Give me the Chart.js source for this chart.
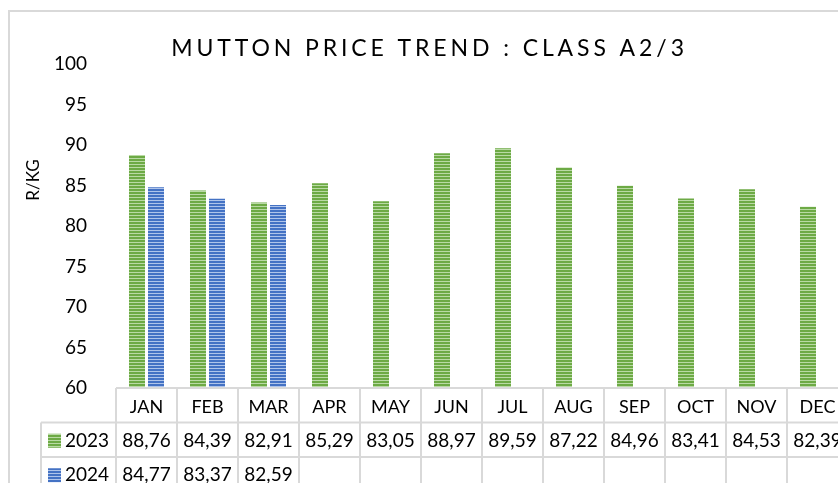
<!DOCTYPE html>
<html>
<head>
<meta charset="utf-8">
<script src="https://cdn.jsdelivr.net/npm/chart.js@4.4.1/dist/chart.umd.min.js"></script>
<style>
  html, body { margin: 0; padding: 0; background: #ffffff; overflow: hidden; }
  #wrap { position: absolute; left: 0; top: 0; width: 860px; height: 500px; }
</style>
</head>
<body>
<div id="wrap"><canvas id="c" width="860" height="500"></canvas></div>
<script>
// ---- data ----
const chartTitle = 'MUTTON PRICE TREND : CLASS A2/3';
const yAxisTitle = 'R/KG';
const months = ['JAN', 'FEB', 'MAR', 'APR', 'MAY', 'JUN', 'JUL', 'AUG', 'SEP', 'OCT', 'NOV', 'DEC'];
const seriesNames = ['2023', '2024'];
const values2023 = [88.76, 84.39, 82.91, 85.29, 83.05, 88.97, 89.59, 87.22, 84.96, 83.41, 84.53, 82.39];
const values2024 = [84.77, 83.37, 82.59, null, null, null, null, null, null, null, null, null];
const yMin = 60, yMax = 100, yStep = 5;

// ---- styles ----
const FONT = 'Lato, "Open Sans", "DejaVu Sans", sans-serif';
const TEXT = '#000000';
const GRID = '#D9D9D9';

function stripePattern(dark, light) {
  const p = document.createElement('canvas');
  p.width = 4; p.height = 3;
  const g = p.getContext('2d');
  g.fillStyle = dark; g.fillRect(0, 0, 4, 2);
  g.fillStyle = light; g.fillRect(0, 2, 4, 1);
  return g.createPattern(p, 'repeat');
}
const ctx = document.getElementById('c').getContext('2d');
const greenPat = stripePattern('#6DAA45', '#B9DAA4');
const bluePat = stripePattern('#4472C4', '#AFC4EA');
const seriesFills = [greenPat, bluePat];

function fmt(v) { return v == null ? '' : v.toFixed(2).replace('.', ','); }

const framePlugin = {
  id: 'frame',
  beforeDraw(chart) {
    const c = chart.ctx;
    c.save();
    c.strokeStyle = GRID;
    c.lineWidth = 2;
    c.strokeRect(9, 11, 1200, 1200);
    c.restore();
  }
};

const tablePlugin = {
  id: 'dataTable',
  afterDraw(chart) {
    const c = chart.ctx;
    const xs = chart.scales.x;
    const area = chart.chartArea;
    const top = area.bottom;          // header row top
    const rowH = 34.5;
    const r1 = top + rowH, r2 = r1 + rowH, r3 = r2 + rowH;
    const legendLeft = 41;
    const n = months.length;
    const colW = (xs.right - xs.left) / n;
    c.save();
    c.strokeStyle = GRID;
    c.lineWidth = 2;
    c.beginPath();
    c.moveTo(xs.left, top); c.lineTo(xs.right + 40, top);
    [r1, r2, r3].forEach(y => { c.moveTo(legendLeft, y); c.lineTo(xs.right + 40, y); });
    for (let i = 0; i <= n; i++) {
      const x = xs.left + i * colW;
      c.moveTo(x, top); c.lineTo(x, r3 + 20);
    }
    c.moveTo(legendLeft, r1); c.lineTo(legendLeft, r3 + 20);
    c.stroke();

    // title
    c.fillStyle = TEXT;
    c.font = '23px ' + FONT;
    c.letterSpacing = '3.9px';
    c.textAlign = 'center';
    c.textBaseline = 'alphabetic';
    c.fillText(chartTitle, 429.5, 56);
    c.letterSpacing = '0px';

    // y axis title
    c.save();
    c.translate(34, 180);
    c.rotate(-Math.PI / 2);
    c.font = '17px ' + FONT;
    c.textAlign = 'center';
    c.textBaseline = 'middle';
    c.fillText(yAxisTitle, 0, 0);
    c.restore();

    // rows
    const rows = [values2023, values2024];
    const rowY = [r1, r2];
    c.font = '19px ' + FONT;
    c.textBaseline = 'middle';
    rows.forEach((vals, k) => {
      const cy = rowY[k] + rowH / 2 + 1;
      c.fillStyle = seriesFills[k];
      c.fillRect(48, cy - 7, 13, 14);
      c.fillStyle = TEXT;
      c.textAlign = 'left';
      c.fillText(seriesNames[k], 65, cy);
      c.textAlign = 'center';
      vals.forEach((v, i) => {
        c.fillText(fmt(v), xs.getPixelForValue(i), cy);
      });
    });
    c.restore();
  }
};

new Chart(ctx, {
  type: 'bar',
  data: {
    labels: months,
    datasets: [
      { label: seriesNames[0], data: values2023, backgroundColor: greenPat, borderWidth: 0 },
      { label: seriesNames[1], data: values2024, backgroundColor: bluePat, borderWidth: 0 }
    ]
  },
  options: {
    responsive: false,
    animation: false,
    devicePixelRatio: 1,
    categoryPercentage: 0.623,
    barPercentage: 0.842,
    layout: { padding: { top: 64, right: 12, bottom: 78, left: 0 } },
    plugins: {
      legend: { display: false },
      title: { display: false },
      tooltip: { enabled: false }
    },
    scales: {
      x: {
        grid: { display: false },
        border: { display: false },
        ticks: { color: TEXT, font: { family: FONT, size: 18 }, padding: 0, maxRotation: 0, autoSkip: false },
        afterFit(s) { s.height = 34; }
      },
      y: {
        min: yMin, max: yMax,
        grid: { display: false },
        border: { display: false },
        ticks: { stepSize: yStep, color: TEXT, font: { family: FONT, size: 19 }, padding: 21 },
        afterFit(s) { s.width = 116; }
      }
    }
  },
  plugins: [framePlugin, tablePlugin]
});
</script>
</body>
</html>
